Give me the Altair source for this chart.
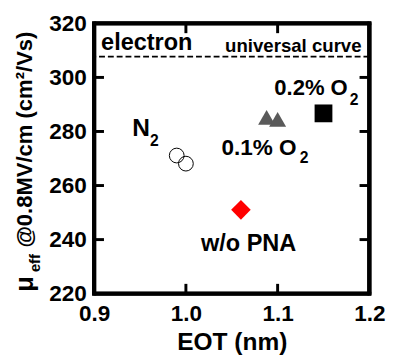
import altair as alt
import pandas as pd

# ---- data ----
series = ["N2", "N2", "0.1% O2", "0.1% O2", "0.2% O2", "w/o PNA"]
eot = [0.990, 1.000, 1.088, 1.100, 1.150, 1.060]
mobility = [271.1, 268.1, 285.2, 284.5, 286.7, 251.0]

universal_curve = [307.7]

x_domain = [0.9, 1.2]
y_domain = [220, 320]
x_labels = [0.9, 1.0, 1.1, 1.2]
y_labels = [220, 240, 260, 280, 300, 320]
x_tick_values = [1.0, 1.1]
y_tick_values = [240, 260, 280, 300]

# annotation labels (main text + subscripts), in data coordinates
ann_text = ["electron", "N", "2", "0.1% O", "2", "0.2% O", "2", "w/o PNA"]
ann_x = [0.9075, 0.9416, 0.9609, 1.0388, 1.1242, 1.0964, 1.1786, 1.0164]
ann_y = [310.2, 278.3, 274.7, 271.4, 268.2, 293.6, 289.9, 235.9]
ann_size = [24, 25, 16, 23, 16, 22.5, 16, 24]

uc_text = ["universal curve"]
uc_x = [1.1915]
uc_y = [309.5]

FONT = "Liberation Sans"
W, H = 281, 276
px_x = (x_domain[1] - x_domain[0]) / W   # data units per pixel, x
px_y = (y_domain[1] - y_domain[0]) / H   # data units per pixel, y
TICK_LEN, TICK_W, FRAME_W = 10, 3, 4

pts = pd.DataFrame({"series": series, "eot": eot, "mu": mobility})
xs = alt.Scale(domain=x_domain, nice=False, zero=False)
ys = alt.Scale(domain=y_domain, nice=False, zero=False)
xaxis = alt.Axis(title="EOT (nm)", values=x_labels, format=".1f",
                 ticks=False, domain=False, grid=False, labelFlush=False,
                 labelFont=FONT, labelFontWeight="bold", labelFontSize=23,
                 labelColor="black", labelPadding=9,
                 titleFont=FONT, titleFontWeight="bold", titleFontSize=25,
                 titleColor="black", titlePadding=5)
yaxis = alt.Axis(title=None, values=y_labels,
                 ticks=False, domain=False, grid=False, labelFlush=False,
                 labelFont=FONT, labelFontWeight="bold", labelFontSize=23,
                 labelColor="black", labelPadding=8)

X = alt.X("eot:Q", scale=xs, axis=xaxis)
Y = alt.Y("mu:Q", scale=ys, axis=yaxis)
X2 = alt.X2("eot2:Q")
Y2 = alt.Y2("mu2:Q")

styles = {
    "N2": dict(shape="circle", filled=False, color="black", strokeWidth=1, size=227),
    "0.1% O2": dict(shape="triangle-up", filled=True, color="#5a5a5a", size=300),
    "0.2% O2": dict(shape="square", filled=True, color="#000000", size=330),
    "w/o PNA": dict(shape="diamond", filled=True, color="#ff0000", size=400),
}
point_layers = [
    alt.Chart(pts[pts["series"] == name]).mark_point(opacity=1, **st).encode(x=X, y=Y)
    for name, st in styles.items()
]

uc = alt.Chart(pd.DataFrame({"mu": universal_curve})).mark_rule(
    color="black", strokeWidth=2, strokeDash=[6, 3]
).encode(y=Y)

# frame as rules
hframe = alt.Chart(pd.DataFrame({"mu": y_domain})).mark_rule(color="black", strokeWidth=FRAME_W).encode(y=Y)
vframe = alt.Chart(pd.DataFrame({"eot": x_domain})).mark_rule(color="black", strokeWidth=FRAME_W).encode(x=X)

# frame again as thin filled rects (same look, different mark type)
x0, x1 = x_domain
y0, y1 = y_domain
hw_x, hw_y = FRAME_W / 2 * px_x, FRAME_W / 2 * px_y
frame_df = pd.DataFrame({
    "eot": [x0 - hw_x, x0 - hw_x, x0 - hw_x, x1 - hw_x],
    "eot2": [x1 + hw_x, x1 + hw_x, x0 + hw_x, x1 + hw_x],
    "mu": [y0 - hw_y, y1 - hw_y, y0 - hw_y, y0 - hw_y],
    "mu2": [y0 + hw_y, y1 + hw_y, y1 + hw_y, y1 + hw_y],
})
frame_rects = alt.Chart(frame_df).mark_rect(color="black", opacity=1).encode(x=X, x2=X2, y=Y, y2=Y2)

# inward ticks as thin rects
tx = TICK_W / 2 * px_x
ty = TICK_W / 2 * px_y
xt_rows = []
for v in x_tick_values:
    xt_rows.append({"eot": v - tx, "eot2": v + tx, "mu": y0, "mu2": y0 + TICK_LEN * px_y})
    xt_rows.append({"eot": v - tx, "eot2": v + tx, "mu": y1 - TICK_LEN * px_y, "mu2": y1})
for v in y_tick_values:
    xt_rows.append({"eot": x0, "eot2": x0 + TICK_LEN * px_x, "mu": v - ty, "mu2": v + ty})
    xt_rows.append({"eot": x1 - TICK_LEN * px_x, "eot2": x1, "mu": v - ty, "mu2": v + ty})
tick_rects = alt.Chart(pd.DataFrame(xt_rows)).mark_rect(color="black", opacity=1).encode(
    x=X, x2=X2, y=Y, y2=Y2)

ann = pd.DataFrame({"text": ann_text, "eot": ann_x, "mu": ann_y, "fs": ann_size})
label_layers = [
    alt.Chart(ann[ann["fs"] == fs]).mark_text(
        align="left", baseline="alphabetic", font=FONT, fontWeight="bold", color="black", fontSize=fs
    ).encode(x=X, y=Y, text="text:N")
    for fs in sorted(set(ann_size))
]

uc_label = alt.Chart(pd.DataFrame({"text": uc_text, "eot": uc_x, "mu": uc_y})).mark_text(
    align="right", baseline="alphabetic", font=FONT, fontWeight="bold", color="black", fontSize=19
).encode(x=X, y=Y, text="text:N")

def ytitle(txt, px, py, fs):
    return alt.Chart(pd.DataFrame({"t": [txt]})).mark_text(
        angle=270, align="left", baseline="alphabetic", font=FONT, fontWeight="bold",
        fontSize=fs, color="black"
    ).encode(text="t:N", x=alt.value(px), y=alt.value(py))

yt_mu = ytitle("\u03bc", -62, 274, 26)
yt_eff = ytitle("eff", -55, 254, 15)
yt_rest = ytitle("@0.8MV/cm (cm\u00b2/Vs)", -64, 229, 22.5)

chart = alt.layer(
    uc, hframe, vframe, frame_rects, tick_rects,
    *point_layers, *label_layers, uc_label, yt_mu, yt_eff, yt_rest
).properties(
    width=W, height=H,
    autosize=alt.AutoSizeParams(type="none"),
    padding={"left": 88, "top": 12, "right": 17, "bottom": 61},
).configure(background="white").configure_view(stroke="black", strokeWidth=4)

chart.save("out.html", embed_options={"renderer": "svg", "actions": False})
